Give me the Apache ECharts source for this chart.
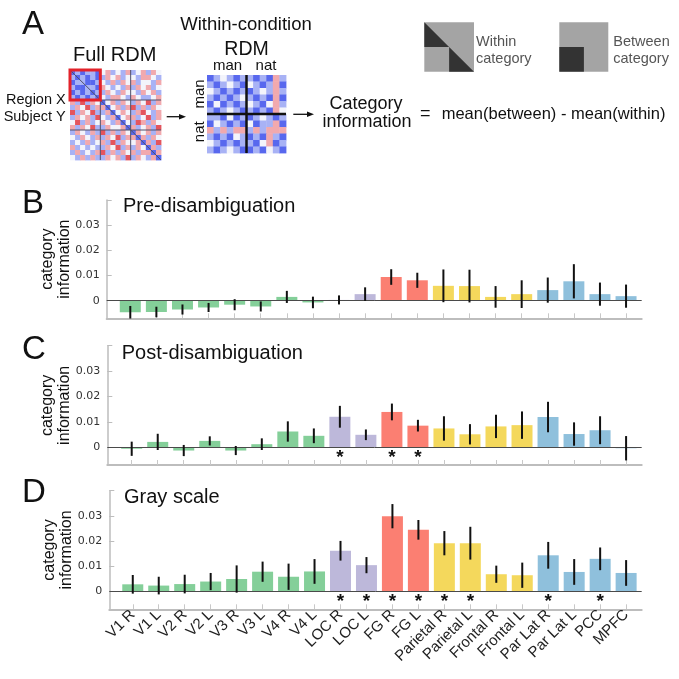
<!DOCTYPE html>
<html><head><meta charset="utf-8">
<script src="https://cdn.jsdelivr.net/npm/echarts@6/dist/echarts.min.js"></script>
<style>html,body{margin:0;padding:0;background:#fff}#c{width:679px;height:679px}</style>
</head><body><div id="c"></div>
<script>
// ---------------- DATA ----------------
const categories = ['V1 R','V1 L','V2 R','V2 L','V3 R','V3 L','V4 R','V4 L','LOC R','LOC L','FG R','FG L','Parietal R','Parietal L','Frontal R','Frontal L','Par Lat R','Par Lat L','PCC','MPFC'];
const regionGroup = ['early','early','early','early','early','early','early','early','loc','loc','fg','fg','fp','fp','fp','fp','net','net','net','net'];

const preValues  = [-0.0046,-0.0045,-0.0035,-0.0027,-0.0016,-0.0023,0.0015,-0.0007,0.0003,0.0026,0.0094,0.0081,0.0059,0.0058,0.0015,0.0026,0.0042,0.0077,0.0026,0.0018];
const preErrors  = [0.0025,0.0021,0.0020,0.0018,0.0022,0.0020,0.0024,0.0023,0.0018,0.0027,0.0031,0.0030,0.0065,0.0065,0.0043,0.0055,0.0050,0.0068,0.0046,0.0046];
const preStars   = [];

const postValues = [-0.0006,0.0021,-0.0013,0.0025,-0.0013,0.0012,0.0062,0.0045,0.0120,0.0049,0.0139,0.0085,0.0074,0.0051,0.0082,0.0087,0.0119,0.0052,0.0067,-0.0004];
const postErrors = [0.0028,0.0032,0.0022,0.0018,0.0018,0.0023,0.0040,0.0029,0.0043,0.0021,0.0033,0.0023,0.0048,0.0040,0.0046,0.0054,0.0060,0.0046,0.0055,0.0048];
const postStars  = ['LOC R','FG R','FG L'];

const grayValues = [0.0029,0.0024,0.0030,0.0040,0.0050,0.0079,0.0059,0.0080,0.0162,0.0105,0.0299,0.0245,0.0192,0.0192,0.0069,0.0065,0.0144,0.0078,0.0130,0.0074];
const grayErrors = [0.0037,0.0035,0.0037,0.0034,0.0054,0.0040,0.0052,0.0049,0.0039,0.0032,0.0048,0.0039,0.0048,0.0065,0.0034,0.0050,0.0053,0.0051,0.0045,0.0051];
const grayStars  = ['LOC R','LOC L','FG R','FG L','Parietal R','Parietal L','Par Lat R','PCC'];

const yTickLabels = [0, 0.01, 0.02, 0.03];
const yTickMarks  = [0, 0.01, 0.02, 0.03, 0.04];

// RDM illustrations (0 = blue, 2 = white, 4 = red)
const fullRdmRows = [
 '010110231213123132','101010132312213321','011001213132312213','100110321213132312',
 '010101132132213231','101010213321321123','314132023132132413','132413302313413132',
 '413241130232134213','132314213023312413','241312321302143132','313241132230312314',
 '132131413132032313','213213132413303132','121312314132230314','312121132413132031',
 '131213413132313303','213131132314132130'
];
const withinRdmRows = [
 '012101101031','101210210130','210101012131','101012101030',
 '020101210231','101210101032','110201012101','021010201130',
 '313133131333','101021010310','210101102301','101210010210'
];

// ---------------- STYLE ----------------
const groupColors = {early:'#84cf99', loc:'#bdb8da', fg:'#fb7f72', fp:'#f4d85c', net:'#8fc0dc'};
const rdmPalette = ['#5868ee','#a8b2f5','#f3f4fb','#f1a9ae','#e4555d'];
const SANS = '"Liberation Sans", Arial, sans-serif';

const panels = [
  {grid:{left:106.7, top:200,   width:535,   height:118.3}, min:-0.904, max:19.6, vals:preValues,  errs:preErrors,  stars:preStars,  labels:false},
  {grid:{left:107.3, top:345.7, width:534.4, height:119.3}, min:-0.938, max:19.6, vals:postValues, errs:postErrors, stars:postStars, labels:false},
  {grid:{left:109.3, top:490.7, width:532.4, height:118.6}, min:-0.904, max:19.6, vals:grayValues, errs:grayErrors, stars:grayStars, labels:true}
];

const idx = categories.map((c,i)=>i);
const grid = [], xAxis = [], yAxis = [], series = [];

panels.forEach((p, g) => {
  grid.push(p.grid);
  xAxis.push({
    gridIndex:g, type:'value', min:p.min, max:p.max,
    axisLine:{show:true, onZero:false, lineStyle:{color:'#bdbdbd', width:2}},
    axisTick:{show:true, inside:true, length:5, lineStyle:{color:'#c8c8c8', width:1}, customValues:idx},
    axisLabel:{show:p.labels, customValues:idx, formatter:v=>categories[Math.round(v)],
      rotate:45, margin:3, fontFamily:SANS, fontSize:15, color:'#222', hideOverlap:false},
    splitLine:{show:false}
  });
  yAxis.push({
    gridIndex:g, type:'value', min:-0.007, max:0.04,
    axisLine:{show:true, onZero:false, lineStyle:{color:'#bdbdbd', width:1.5}},
    axisTick:{show:true, inside:true, length:5, lineStyle:{color:'#bdbdbd'}, customValues:yTickMarks},
    axisLabel:{show:true, customValues:yTickLabels, formatter:v=> v===0 ? '0' : v.toFixed(2),
      fontFamily:'"DejaVu Sans", sans-serif', fontSize:11, color:'#333', margin:7},
    splitLine:{show:false},
    name:'category\ninformation', nameLocation:'middle', nameGap:34, nameRotate:90, nameMoveOverlap:false,
    nameTextStyle:{fontFamily:SANS, fontSize:16, color:'#111', lineHeight:17}
  });
  series.push({
    type:'bar', xAxisIndex:g, yAxisIndex:g, barWidth:21, silent:true,
    data:p.vals.map((v,i)=>({value:[i,v], itemStyle:{color:groupColors[regionGroup[i]]}})),
    markLine:{silent:true, symbol:['none','none'], label:{show:false},
      lineStyle:{color:'#4a4a4a', width:1, type:'solid'}, data:[{yAxis:0}]}
  });
  series.push({
    type:'custom', xAxisIndex:g, yAxisIndex:g, z:5, silent:true,
    data:p.vals.map((v,i)=>[i, v-p.errs[i], v+p.errs[i]]),
    renderItem:(params, api)=>{
      const a = api.coord([api.value(0), api.value(1)]);
      const b = api.coord([api.value(0), api.value(2)]);
      return {type:'line', shape:{x1:a[0], y1:a[1], x2:b[0], y2:b[1]}, style:{stroke:'#111', lineWidth:2}};
    }
  });
  series.push({
    type:'custom', xAxisIndex:g, yAxisIndex:g, z:6, silent:true, clip:false,
    data:p.stars.map(s=>[categories.indexOf(s), 0]),
    renderItem:(params, api)=>{
      const c = api.coord([api.value(0), api.value(1)]);
      return {type:'text', x:c[0], y:c[1]+1, style:{text:'*', align:'center', verticalAlign:'top',
        font:'bold 19px ' + SANS, fill:'#111'}};
    }
  });
});

// RDM grids
function rdmPanel(gIdx, rows, gridDef, lines, lineColor, lineWidth, box) {
  const n = rows.length;
  grid.push(gridDef);
  xAxis.push({gridIndex:gIdx, type:'value', min:0, max:n, show:false});
  yAxis.push({gridIndex:gIdx, type:'value', min:0, max:n, inverse:true, show:false});
  const cells = [];
  rows.forEach((row, r) => row.split('').forEach((ch, c) => cells.push([c, r, +ch])));
  series.push({
    type:'custom', xAxisIndex:gIdx, yAxisIndex:gIdx, silent:true, data:cells,
    renderItem:(params, api)=>{
      const x = api.value(0), y = api.value(1);
      const a = api.coord([x, y]), b = api.coord([x+1, y+1]);
      return {type:'rect', shape:{x:Math.min(a[0],b[0]), y:Math.min(a[1],b[1]),
        width:Math.abs(b[0]-a[0])+0.4, height:Math.abs(b[1]-a[1])+0.4},
        style:{fill:rdmPalette[api.value(2)]}};
    }
  });
  series.push({
    type:'custom', xAxisIndex:gIdx, yAxisIndex:gIdx, silent:true, z:4, data:lines,
    renderItem:(params, api)=>{
      const a = api.coord([api.value(0), api.value(1)]);
      const b = api.coord([api.value(2), api.value(3)]);
      return {type:'line', shape:{x1:a[0], y1:a[1], x2:b[0], y2:b[1]}, style:{stroke:lineColor, lineWidth:lineWidth}};
    }
  });
  if (box) {
    series.push({
      type:'custom', xAxisIndex:gIdx, yAxisIndex:gIdx, silent:true, z:5, clip:false, data:[box],
      renderItem:(params, api)=>{
        const a = api.coord([api.value(0), api.value(1)]);
        const b = api.coord([api.value(2), api.value(3)]);
        return {type:'rect', shape:{x:a[0], y:a[1], width:b[0]-a[0], height:b[1]-a[1]},
          style:{fill:'none', stroke:'#e3232b', lineWidth:3}};
      }
    });
  }
}
rdmPanel(3, fullRdmRows, {left:70, top:70, width:91, height:90},
  [[6,0,6,18],[12,0,12,18],[0,6,18,6],[0,12,18,12],[0,0,18,18]], '#50506a', 1, [0,0,6,6]);
rdmPanel(4, withinRdmRows, {left:207, top:75, width:79, height:78},
  [[6,0,6,12],[0,6,12,6]], '#111', 2.5, null);

// ---------------- TEXT / SCHEMATIC ----------------
function txt(x, y, text, size, opts) {
  opts = opts || {};
  return {type:'text', x:x, y:y, rotation:opts.rot || 0, silent:true,
    style:{text:text, font:size + 'px ' + SANS, fill:opts.color || '#111',
      align:opts.align || 'left', verticalAlign:'middle'}};
}
const graphic = [
  txt(22, 25, 'A', 33), txt(22, 204.2, 'B', 33), txt(22, 349.8, 'C', 33), txt(22, 493.3, 'D', 33),
  txt(123, 206, 'Pre-disambiguation', 20), txt(121.7, 353, 'Post-disambiguation', 20), txt(124, 497, 'Gray scale', 20),
  txt(114.7, 55.5, 'Full RDM', 20, {align:'center'}),
  txt(246, 25, 'Within-condition', 18.5, {align:'center'}),
  txt(246.5, 49.2, 'RDM', 19.5, {align:'center'}),
  txt(227.5, 66, 'man', 15, {align:'center'}), txt(266, 66, 'nat', 15, {align:'center'}),
  txt(199.5, 94, 'man', 15, {align:'center', rot:Math.PI/2}), txt(199.5, 131.7, 'nat', 15, {align:'center', rot:Math.PI/2}),
  txt(65.7, 99.7, 'Region X', 14.5, {align:'right'}), txt(65.7, 116.7, 'Subject Y', 14.5, {align:'right'}),
  txt(366, 103.7, 'Category', 18, {align:'center'}), txt(367, 122, 'information', 18, {align:'center'}),
  txt(425.3, 114, '=', 18, {align:'center'}),
  txt(441.7, 114.3, 'mean(between) - mean(within)', 16.5),
  txt(476, 41.7, 'Within', 14.5, {color:'#555'}), txt(476, 58.7, 'category', 14.5, {color:'#555'}),
  txt(613.3, 41.7, 'Between', 14.5, {color:'#555'}), txt(613.3, 58.7, 'category', 14.5, {color:'#555'}),
  // arrows
  {type:'line', silent:true, shape:{x1:166.7, y1:116.7, x2:181, y2:116.7}, style:{stroke:'#111', lineWidth:1.3}},
  {type:'polygon', silent:true, shape:{points:[[186,116.7],[179,113.9],[179,119.5]]}, style:{fill:'#111'}},
  {type:'line', silent:true, shape:{x1:293.3, y1:114.3, x2:309, y2:114.3}, style:{stroke:'#111', lineWidth:1.3}},
  {type:'polygon', silent:true, shape:{points:[[314,114.3],[307,111.5],[307,117.1]]}, style:{fill:'#111'}},
  // within-category icon
  {type:'rect', silent:true, shape:{x:424.3, y:22.3, width:49.7, height:49.4}, style:{fill:'#a4a4a4'}},
  {type:'polygon', silent:true, shape:{points:[[424.3,22.3],[449.1,47],[424.3,47]]}, style:{fill:'#333'}},
  {type:'polygon', silent:true, shape:{points:[[449.1,47],[474,71.7],[449.1,71.7]]}, style:{fill:'#333'}},
  // between-category icon
  {type:'rect', silent:true, shape:{x:559.3, y:22.3, width:49, height:49.4}, style:{fill:'#a4a4a4'}},
  {type:'rect', silent:true, shape:{x:559.3, y:47, width:24.6, height:24.7}, style:{fill:'#333'}}
];

const chart = echarts.init(document.getElementById('c'), null, {renderer:'canvas'});
chart.setOption({
  animation:false, backgroundColor:'#fff',
  grid:grid, xAxis:xAxis, yAxis:yAxis, series:series, graphic:graphic
});
</script>
</body></html>
